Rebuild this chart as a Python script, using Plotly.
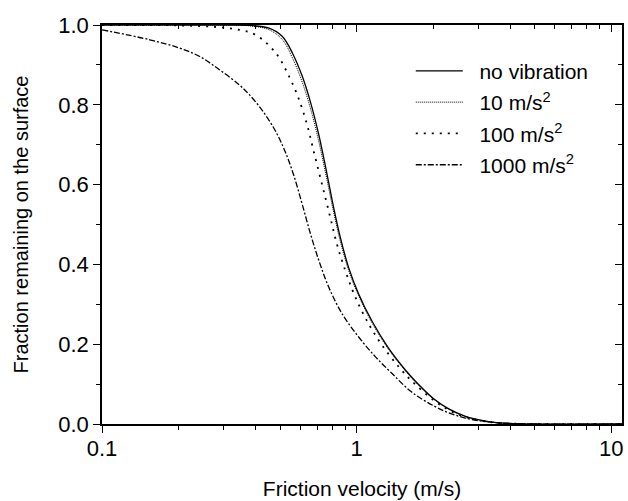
import plotly.graph_objects as go

# ---- data ----
x_none = [0.1, 0.2, 0.3, 0.378, 0.453, 0.511, 0.559, 0.611, 0.659, 0.711, 0.766, 0.813, 0.863, 0.930, 1.018, 1.148, 1.334, 1.55, 1.75, 2.0, 2.3, 2.66, 3.1, 3.6, 4.5, 11.0]
y_none = [1.0, 1.0, 1.0, 0.999, 0.992, 0.971, 0.930, 0.872, 0.806, 0.723, 0.624, 0.541, 0.467, 0.392, 0.326, 0.258, 0.190, 0.136, 0.099, 0.064, 0.038, 0.020, 0.009, 0.003, 0.0005, 0.0]

x_10 = [0.1, 0.2, 0.3, 0.378, 0.453, 0.511, 0.559, 0.611, 0.659, 0.711, 0.766, 0.813, 0.863, 0.930, 1.018, 1.148, 1.334, 1.55, 1.75, 2.0, 2.3, 2.66, 3.1, 3.6, 4.5, 11.0]
y_10 = [1.0, 1.0, 1.0, 0.998, 0.988, 0.963, 0.918, 0.857, 0.790, 0.706, 0.609, 0.529, 0.457, 0.385, 0.321, 0.254, 0.187, 0.134, 0.097, 0.063, 0.037, 0.019, 0.009, 0.003, 0.0005, 0.0]

x_100 = [0.1, 0.2, 0.28, 0.346, 0.402, 0.481, 0.542, 0.593, 0.640, 0.679, 0.732, 0.789, 0.837, 0.903, 0.988, 1.114, 1.256, 1.459, 1.644, 2.0, 2.3, 2.66, 3.1, 3.6, 4.5, 11.0]
y_100 = [1.0, 0.999, 0.995, 0.988, 0.975, 0.930, 0.872, 0.814, 0.748, 0.682, 0.599, 0.516, 0.450, 0.384, 0.318, 0.251, 0.198, 0.144, 0.108, 0.060, 0.035, 0.018, 0.008, 0.003, 0.0005, 0.0]

x_1000 = [0.1, 0.154, 0.202, 0.242, 0.289, 0.346, 0.378, 0.427, 0.481, 0.526, 0.567, 0.611, 0.659, 0.711, 0.778, 0.877, 1.018, 1.183, 1.374, 1.644, 2.0, 2.3, 2.67, 3.1, 3.6, 4.5, 11.0]
y_1000 = [0.988, 0.963, 0.942, 0.921, 0.888, 0.850, 0.826, 0.785, 0.733, 0.680, 0.622, 0.551, 0.476, 0.409, 0.342, 0.276, 0.218, 0.169, 0.127, 0.080, 0.046, 0.028, 0.015, 0.007, 0.003, 0.0005, 0.0]

series_names = ["no vibration", "10 m/s<sup>2</sup>", "100 m/s<sup>2</sup>", "1000 m/s<sup>2</sup>"]

x_tickvals = [0.1, 1, 10]
x_ticktext = ["0.1", "1", "10"]
x_minor_vals = [0.2, 0.3, 0.4, 0.5, 0.6, 0.7, 0.8, 0.9, 2, 3, 4, 5, 6, 7, 8, 9]

FONT = "Liberation Sans, Arial, sans-serif"
NB = "\u00a0\u00a0"

fig = go.Figure()
styles = [
    dict(dash="solid", width=1.3),
    dict(dash="1px,1px", width=1.0),
    dict(dash="2px,6px", width=1.8),
    dict(dash="6px,2px,2px,2px", width=1.3),
]
data = [(x_none, y_none), (x_10, y_10), (x_100, y_100), (x_1000, y_1000)]
for i, ((xs, ys), name, st) in enumerate(zip(data, series_names, styles)):
    fig.add_trace(go.Scatter(
        x=xs, y=ys, mode="lines", name=NB + name, legendgroup=str(i),
        line=dict(color="black", width=st["width"], dash=st["dash"], shape="spline", smoothing=1.0),
    ))

# invisible trace hosting the top/right mirror axes
fig.add_trace(go.Scatter(x=[0.1], y=[0], xaxis="x2", yaxis="y2", mode="markers",
                         marker=dict(opacity=0), showlegend=False, hoverinfo="skip"))

xr = [-1, 1.0418]
tick_common = dict(tickwidth=1.3, tickcolor="black", showline=True, linecolor="black",
                   linewidth=1.5, showgrid=False, zeroline=False)
fig.update_layout(
    width=628, height=501,
    margin=dict(l=102, r=4, t=25, b=73),
    paper_bgcolor="white", plot_bgcolor="white",
    font=dict(family=FONT, size=21, color="black"),
    showlegend=True,
    legend=dict(x=0.5938, y=0.9356, xanchor="left", yanchor="top",
                bgcolor="rgba(0,0,0,0)", font=dict(size=21), tracegroupgap=1,
                itemwidth=47),
    xaxis=dict(type="log", range=xr, tickvals=x_tickvals, ticktext=x_ticktext,
               ticks="outside", ticklen=7, tickfont=dict(size=22),
               ticklabelstandoff=-3, ticklabeloverflow="allow",
               minor=dict(tickmode="array", tickvals=x_minor_vals, ticks="outside", ticklen=4,
                          tickwidth=1.3, tickcolor="black", showgrid=False),
               title=dict(text="Friction velocity (m/s)", font=dict(size=21), standoff=21),
               **tick_common),
    yaxis=dict(range=[0, 1], dtick=0.2, tick0=0, tickformat=".1f",
               ticks="outside", ticklen=7, tickfont=dict(size=22), ticklabelstandoff=0,
               minor=dict(ticks="outside", ticklen=4, dtick=0.1, tick0=0,
                          tickwidth=1.3, tickcolor="black", showgrid=False),
               title=dict(text="Fraction remaining on the surface", font=dict(size=20), standoff=24),
               **tick_common),
    xaxis2=dict(type="log", range=xr, overlaying="x", side="top", tickvals=x_tickvals,
                showticklabels=False, ticks="inside", ticklen=7,
                minor=dict(tickmode="array", tickvals=x_minor_vals, ticks="inside", ticklen=4,
                           tickwidth=1.3, tickcolor="black", showgrid=False),
                **tick_common),
    yaxis2=dict(range=[0, 1], overlaying="y", side="right", dtick=0.2, tick0=0,
                showticklabels=False, ticks="inside", ticklen=7,
                minor=dict(ticks="inside", ticklen=4, dtick=0.1, tick0=0,
                           tickwidth=1.3, tickcolor="black", showgrid=False),
                **tick_common),
)

fig.write_html("out.html", config={"displayModeBar": False},
               post_script="document.body.style.margin='0';document.body.style.overflow='hidden';")
